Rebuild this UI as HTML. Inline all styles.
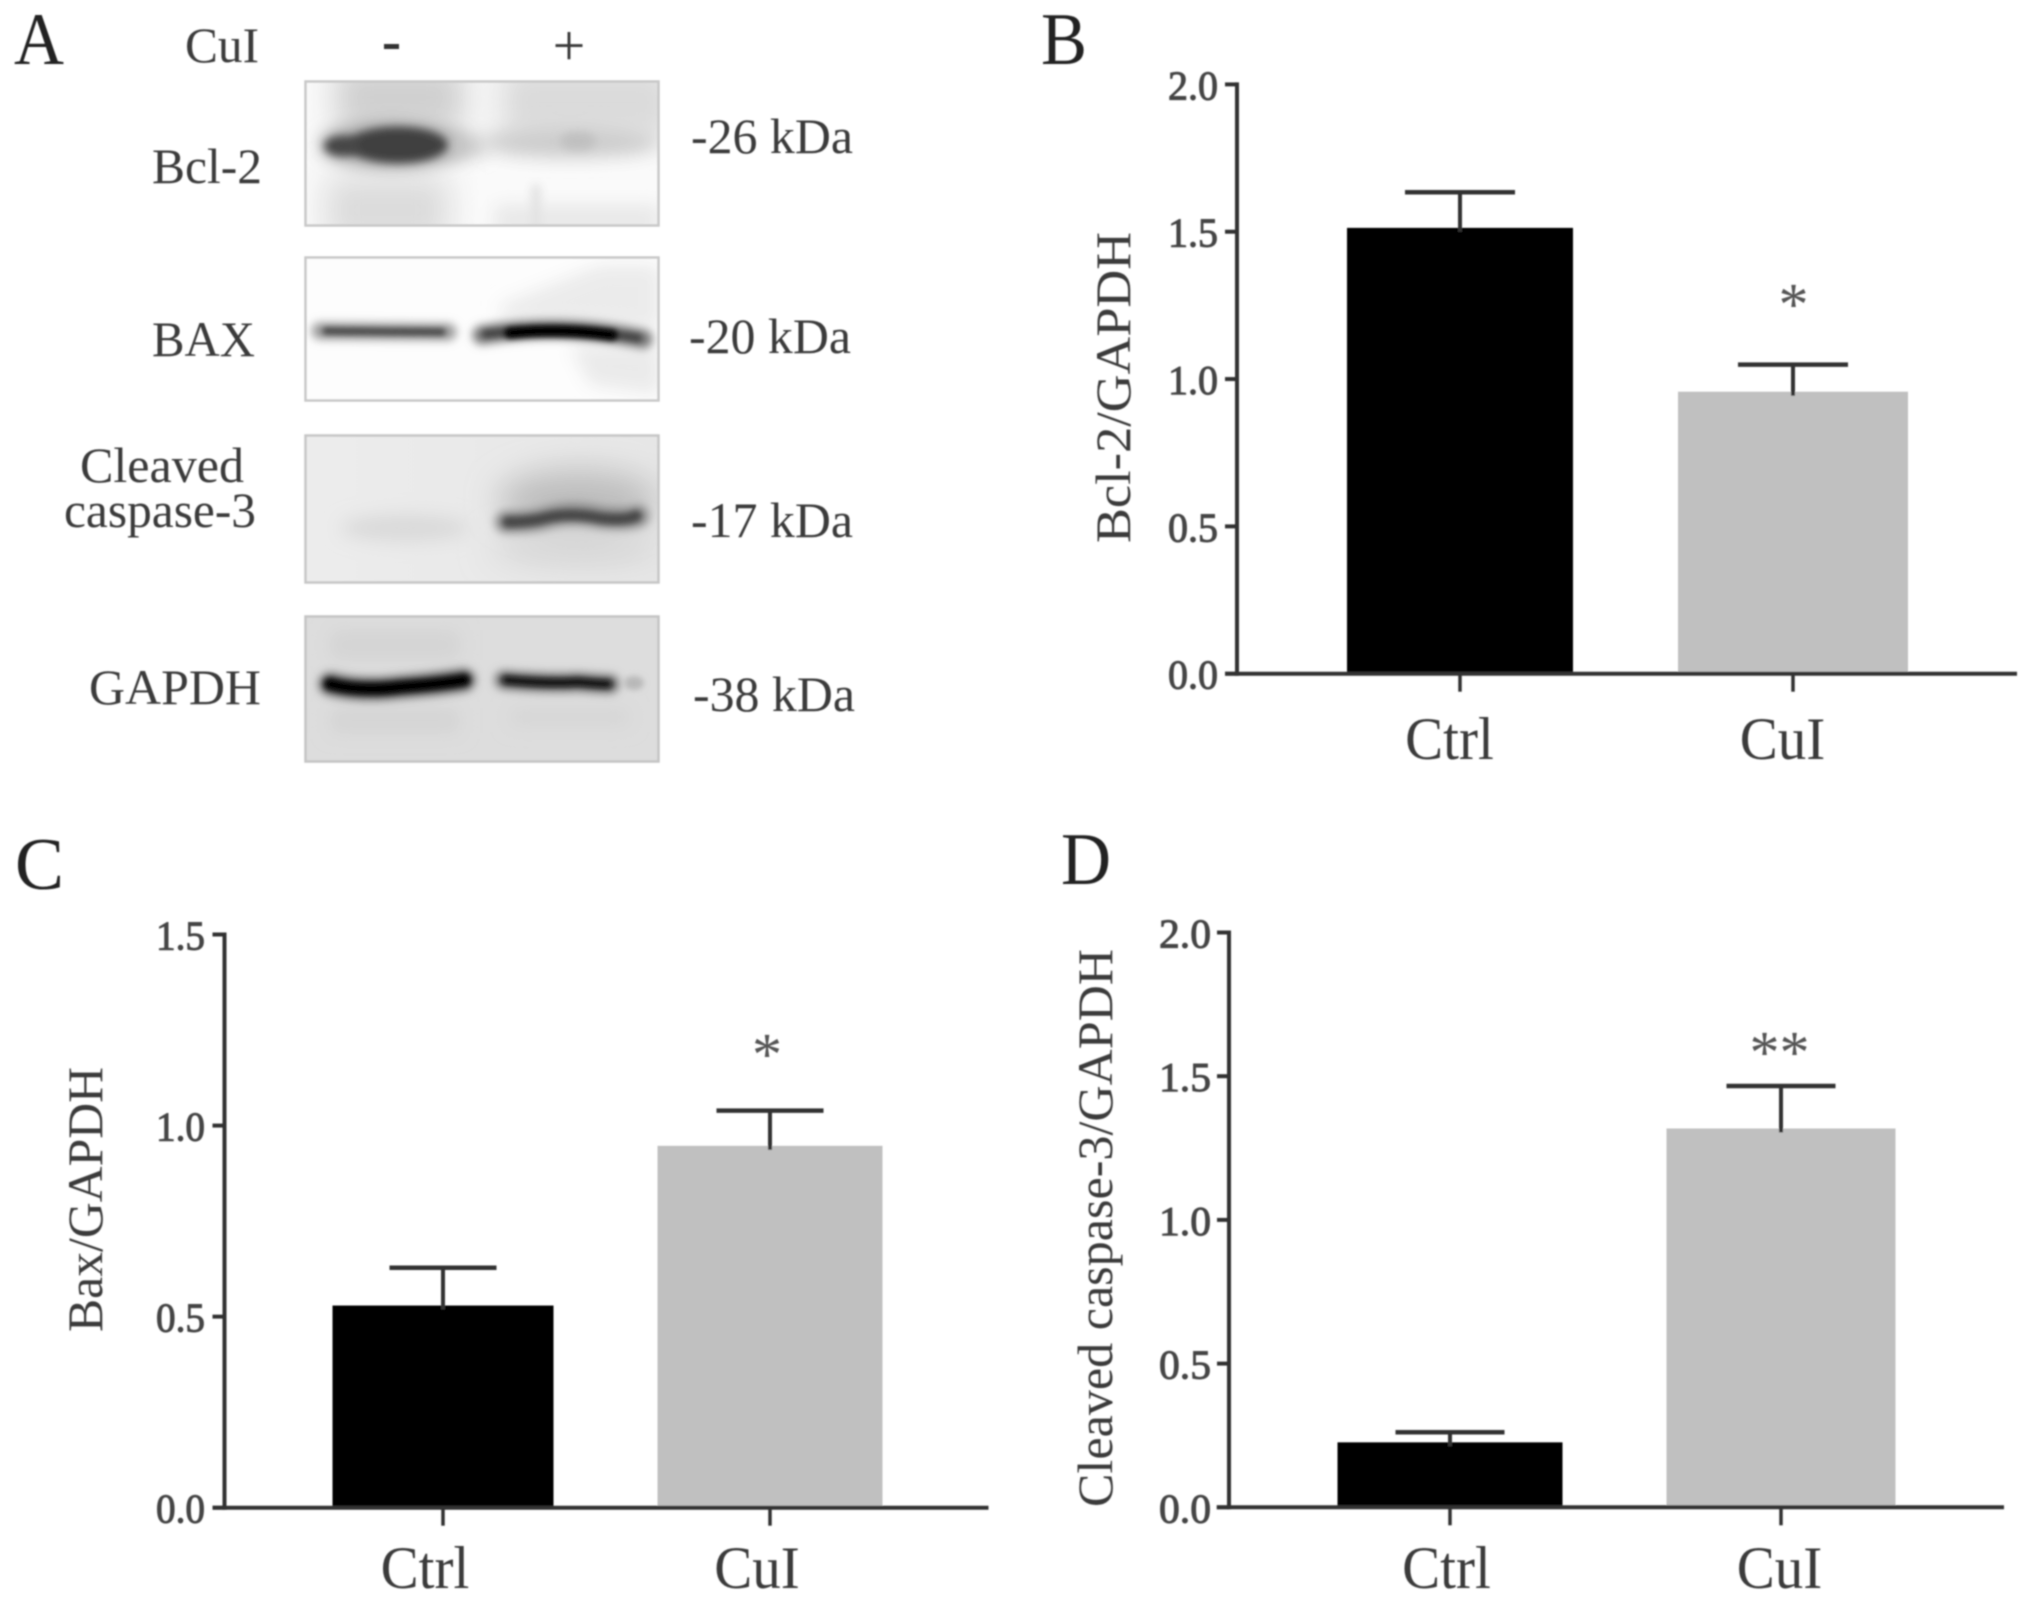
<!DOCTYPE html>
<html lang="en">
<head>
<meta charset="utf-8">
<title>Western blot and densitometry of Bcl-2, Bax and cleaved caspase-3</title>
<style>
html,body{margin:0;padding:0;background:#fff;width:2031px;height:1602px;overflow:hidden}
svg{display:block}
text{font-family:"Liberation Serif","Noto Serif CJK SC",serif;fill:#3a3a3a}
.lbl{font-size:50px}
.panel{font-size:74px;fill:#222}
.tick{font-size:41px;fill:#444;stroke:#444;stroke-width:1px}
.cat{font-size:60px}
.ytitle{font-size:50px}
.sig{font-size:60px;fill:#555}
</style>
</head>
<body>
<svg id="figure" xmlns="http://www.w3.org/2000/svg" width="2031" height="1602" viewBox="0 0 2031 1602">
<defs>
<filter id="b2" filterUnits="userSpaceOnUse" x="290" y="60" width="390" height="720"><feGaussianBlur stdDeviation="3"/></filter>
<filter id="b4" filterUnits="userSpaceOnUse" x="290" y="60" width="390" height="720"><feGaussianBlur stdDeviation="4.5"/></filter>
<filter id="b8" filterUnits="userSpaceOnUse" x="290" y="60" width="390" height="720"><feGaussianBlur stdDeviation="9"/></filter>
<filter id="b16" filterUnits="userSpaceOnUse" x="290" y="60" width="390" height="720"><feGaussianBlur stdDeviation="16"/></filter>
<filter id="soft" filterUnits="userSpaceOnUse" x="0" y="0" width="2031" height="1602"><feGaussianBlur stdDeviation="0.7"/></filter>
<clipPath id="c1"><rect x="305" y="81" width="354" height="144"/></clipPath>
<clipPath id="c2"><rect x="305" y="257" width="354" height="144"/></clipPath>
<clipPath id="c3"><rect x="305" y="435" width="354" height="148"/></clipPath>
<clipPath id="c4"><rect x="305" y="616" width="354" height="145"/></clipPath>
<linearGradient id="g3" x1="0" y1="0" x2="1" y2="0"><stop offset="0" stop-color="#ececec"/><stop offset="1" stop-color="#e6e6e6"/></linearGradient>
</defs>

<g id="soft-root" filter="url(#soft)">
<g id="panel-a">
  <text class="panel" x="14" y="64" textLength="50" lengthAdjust="spacingAndGlyphs">A</text>
  <text class="lbl" x="185" y="62" textLength="74" lengthAdjust="spacingAndGlyphs">CuI</text>
  <rect x="384" y="44" width="15" height="5" fill="#333"/>
  <text class="lbl" x="569" y="65" text-anchor="middle" style="font-size:58px">+</text>

  <g>
    <g clip-path="url(#c1)">
      <rect x="305" y="81" width="354" height="144" fill="#fafafa"/>
      <rect x="335" y="65" width="130" height="65" fill="#cfcfcf" filter="url(#b16)"/>
      <rect x="500" y="65" width="175" height="75" fill="#dadada" filter="url(#b16)"/>
      <rect x="325" y="175" width="125" height="70" fill="#dcdcdc" filter="url(#b16)"/>
      <rect x="495" y="205" width="165" height="30" fill="#e8e8e8" filter="url(#b8)"/>
      <rect x="531" y="185" width="10" height="50" fill="#e2e2e2" filter="url(#b4)"/>
      <ellipse cx="392" cy="145" rx="72" ry="22" fill="#9a9a9a" filter="url(#b8)"/>
      <ellipse cx="458" cy="146" rx="30" ry="12" fill="#c4c4c4" filter="url(#b8)"/>
      <ellipse cx="398" cy="145" rx="50" ry="18" fill="#3f3f3f" filter="url(#b4)"/>
      <ellipse cx="342" cy="146" rx="18" ry="10" fill="#444" filter="url(#b4)"/>
      <ellipse cx="570" cy="142" rx="88" ry="15" fill="#cccccc" filter="url(#b8)"/>
      <ellipse cx="578" cy="141" rx="18" ry="9" fill="#c0c0c0" filter="url(#b4)"/>
    </g>
    <rect x="305.5" y="81.5" width="353" height="144" fill="none" stroke="#c8c8c8" stroke-width="2.5"/>
  </g>

  <g>
    <g clip-path="url(#c2)">
      <rect x="305" y="257" width="354" height="144" fill="#fdfdfd"/>
      <polygon points="500,305 600,265 660,265 660,330 500,320" fill="#ebebeb" filter="url(#b8)"/>
      <polygon points="570,345 660,345 660,395 590,385" fill="#eaeaea" filter="url(#b8)"/>
      <path d="M320 331 L448 332" fill="none" stroke="#9a9a9a" stroke-width="17" stroke-linecap="round" filter="url(#b4)"/>
      <path d="M326 331 L442 332" fill="none" stroke="#444" stroke-width="7" stroke-linecap="round" filter="url(#b2)"/>
      <path d="M482 335 Q560 322 643 339" fill="none" stroke="#777" stroke-width="19" stroke-linecap="round" filter="url(#b4)"/>
      <path d="M486 334 Q560 326 638 338" fill="none" stroke="#444" stroke-width="8" stroke-linecap="round" filter="url(#b2)"/>
      <path d="M510 333 Q560 328 612 335" fill="none" stroke="#000" stroke-width="11" stroke-linecap="round" filter="url(#b2)"/>
    </g>
    <rect x="305.5" y="257.5" width="353" height="143" fill="none" stroke="#c8c8c8" stroke-width="2.5"/>
  </g>

  <g>
    <g clip-path="url(#c3)">
      <rect x="305" y="435" width="354" height="148" fill="url(#g3)"/>
      <ellipse cx="578" cy="500" rx="80" ry="30" fill="#bdbdbd" filter="url(#b16)"/>
      <ellipse cx="575" cy="548" rx="85" ry="16" fill="#d4d4d4" filter="url(#b16)"/>
      <ellipse cx="405" cy="528" rx="65" ry="13" fill="#d9d9d9" filter="url(#b8)"/>
      <path d="M506 522 Q530 522 545 518 Q570 510 600 517 Q625 520 638 516" fill="none" stroke="#8a8a8a" stroke-width="22" stroke-linecap="round" filter="url(#b4)"/>
      <path d="M508 522 Q530 522 545 518 Q570 512 600 518 Q625 521 636 516" fill="none" stroke="#4a4a4a" stroke-width="11" stroke-linecap="round" filter="url(#b2)"/>
    </g>
    <rect x="305.5" y="435.5" width="353" height="147" fill="none" stroke="#c6c6c6" stroke-width="2.5"/>
  </g>

  <g>
    <g clip-path="url(#c4)">
      <rect x="305" y="616" width="354" height="145" fill="#dddddd"/>
      <rect x="330" y="630" width="130" height="30" fill="#d4d4d4" filter="url(#b8)"/>
      <rect x="330" y="708" width="130" height="25" fill="#d4d4d4" filter="url(#b8)"/>
      <rect x="510" y="708" width="120" height="18" fill="#d6d6d6" filter="url(#b8)"/>
      <path d="M330 684 Q360 692 400 687 Q440 684 464 680" fill="none" stroke="#555" stroke-width="22" stroke-linecap="round" filter="url(#b4)"/>
      <path d="M330 684 Q360 692 400 687 Q440 684 464 680" fill="none" stroke="#000" stroke-width="12" stroke-linecap="round" filter="url(#b2)"/>
      <path d="M504 680 Q550 684 578 682 Q600 684 610 684" fill="none" stroke="#666" stroke-width="18" stroke-linecap="round" filter="url(#b4)"/>
      <path d="M506 680 Q550 684 578 682 Q600 684 608 684" fill="none" stroke="#0a0a0a" stroke-width="8" stroke-linecap="round" filter="url(#b2)"/>
      <ellipse cx="634" cy="683" rx="10" ry="7" fill="#b8b8b8" filter="url(#b2)"/>
    </g>
    <rect x="305.5" y="616.5" width="353" height="145" fill="none" stroke="#c4c4c4" stroke-width="2.5"/>
  </g>

  <text class="lbl" x="152" y="183" textLength="110" lengthAdjust="spacingAndGlyphs">Bcl-2</text>
  <text class="lbl" x="152" y="356" textLength="103" lengthAdjust="spacingAndGlyphs">BAX</text>
  <text class="lbl" x="80" y="482" textLength="164" lengthAdjust="spacingAndGlyphs">Cleaved</text>
  <text class="lbl" x="64" y="527" textLength="192" lengthAdjust="spacingAndGlyphs">caspase-3</text>
  <text class="lbl" x="89" y="704" textLength="172" lengthAdjust="spacingAndGlyphs">GAPDH</text>
  <text class="lbl" x="691" y="153" textLength="162" lengthAdjust="spacingAndGlyphs">-26 kDa</text>
  <text class="lbl" x="689" y="353" textLength="162" lengthAdjust="spacingAndGlyphs">-20 kDa</text>
  <text class="lbl" x="691" y="537" textLength="162" lengthAdjust="spacingAndGlyphs">-17 kDa</text>
  <text class="lbl" x="693" y="711" textLength="162" lengthAdjust="spacingAndGlyphs">-38 kDa</text>
</g>

<text class="panel" x="1041" y="64" textLength="46" lengthAdjust="spacingAndGlyphs">B</text>
<text class="panel" x="15" y="889" textLength="49" lengthAdjust="spacingAndGlyphs">C</text>
<text class="panel" x="1061" y="884" textLength="50" lengthAdjust="spacingAndGlyphs">D</text>

<text class="ytitle" transform="translate(1130,543) rotate(-90)" textLength="311" lengthAdjust="spacingAndGlyphs">Bcl-2/GAPDH</text>
<text class="ytitle" transform="translate(102,1332) rotate(-90)" textLength="265" lengthAdjust="spacingAndGlyphs">Bax/GAPDH</text>
<text class="ytitle" transform="translate(1112,1507) rotate(-90)" textLength="558" lengthAdjust="spacingAndGlyphs">Cleaved caspase-3/GAPDH</text>

<g id="charts"></g>
</g>
</svg>

<script>
var categories = ["Ctrl", "CuI"];

var ticksB = ["0.0", "0.5", "1.0", "1.5", "2.0"];
var meansB = [1.513, 0.957];
var errorsB = [0.121, 0.092];
var sigB = ["", "*"];

var ticksC = ["0.0", "0.5", "1.0", "1.5"];
var meansC = [0.529, 0.947];
var errorsC = [0.099, 0.092];
var sigC = ["", "*"];

var ticksD = ["0.0", "0.5", "1.0", "1.5", "2.0"];
var meansD = [0.226, 1.318];
var errorsD = [0.035, 0.148];
var sigD = ["", "**"];

var barColors = ["#000000", "#c0c0c0"];
var NS = "http://www.w3.org/2000/svg";
var root = document.getElementById("charts");

function node(parent, tag) {
  var el = document.createElementNS(NS, tag);
  parent.appendChild(el);
  return el;
}
function line(parent, x1, y1, x2, y2, w) {
  var el = node(parent, "line");
  el.setAttribute("x1", x1);
  el.setAttribute("y1", y1);
  el.setAttribute("x2", x2);
  el.setAttribute("y2", y2);
  el.setAttribute("stroke", "#333");
  el.setAttribute("stroke-width", w);
  return el;
}

function drawChart(id, categoriesList, ticks, means, errors, sig, g) {
  var group = node(root, "g");
  
  

  var yMax = parseFloat(ticks[ticks.length - 1]);
  function yScale(v) { return g.y0 - (v / yMax) * (g.y0 - g.yTop); }
  function xScale(i) { return g.x0 + i * g.step; }

  means.forEach(function (m, i) {
    var w = g.barW + i * g.barGrow;
    var bar = node(group, "rect");
    
    
    bar.setAttribute("x", xScale(i) - w / 2);
    bar.setAttribute("y", yScale(m));
    bar.setAttribute("width", w);
    bar.setAttribute("height", g.y0 - yScale(m));
    bar.setAttribute("fill", barColors[i]);

    var top = yScale(m + errors[i]);
    var stem = line(group, xScale(i), top, xScale(i), yScale(m) + 4, 4);
    
    
    var cap = line(group, xScale(i) - g.capW / 2, top, xScale(i) + g.capW / 2, top, 4.5);
    
    

    if (sig[i]) {
      var s = node(group, "text");
      
      
      s.setAttribute("class", "sig");
      s.setAttribute("text-anchor", "middle");
      s.setAttribute("x", xScale(i) + g.sigDx);
      s.setAttribute("y", top - g.sigGap);
      s.textContent = sig[i];
    }

    var tickX = line(group, xScale(i), g.y0, xScale(i), g.y0 + 18, 3.5);
    
    

    var lab = node(group, "text");
    
    
    lab.setAttribute("class", "cat");
    lab.setAttribute("text-anchor", "middle");
    lab.setAttribute("x", g.labelX0 + i * g.labelStep);
    lab.setAttribute("y", g.labelY);
    lab.textContent = categoriesList[i];
    lab.setAttribute("textLength", lab.getComputedTextLength() * 0.95);
    lab.setAttribute("lengthAdjust", "spacingAndGlyphs");
  });

  var yAxis = line(group, g.axisX, g.yTop - 2, g.axisX, g.y0 + 2, 4);
  
  
  var xAxis = line(group, g.xStart, g.y0, g.xEnd, g.y0, 4);
  
  

  ticks.forEach(function (t) {
    var v = parseFloat(t);
    var tk = line(group, g.axisX - 12, yScale(v), g.axisX, yScale(v), 4);
    
    
    var lb = node(group, "text");
    
    
    lb.setAttribute("class", "tick");
    lb.setAttribute("x", g.tickLabelX);
    lb.setAttribute("y", yScale(v) + 15);
    lb.setAttribute("textLength", g.tickLabelW);
    lb.setAttribute("lengthAdjust", "spacingAndGlyphs");
    lb.textContent = t;
  });
}

drawChart("b", categories, ticksB, meansB, errorsB, sigB, {
  axisX: 1237, y0: 673.7, yTop: 84.4, xStart: 1225, xEnd: 2017,
  x0: 1460, step: 333, barW: 226, barGrow: 4, capW: 110,
  tickLabelX: 1168, tickLabelW: 50, labelX0: 1449.5, labelStep: 333, labelY: 759,
  sigDx: 0.5, sigGap: 40
});
drawChart("c", categories, ticksC, meansC, errorsC, sigC, {
  axisX: 224.5, y0: 1507.7, yTop: 934.5, xStart: 212.7, xEnd: 988.5,
  x0: 443, step: 327, barW: 221, barGrow: 4, capW: 107,
  tickLabelX: 156, tickLabelW: 49, labelX0: 425, labelStep: 332, labelY: 1588,
  sigDx: -3, sigGap: 36
});
drawChart("d", categories, ticksD, meansD, errorsD, sigD, {
  axisX: 1229, y0: 1507.3, yTop: 932.5, xStart: 1216.7, xEnd: 2004,
  x0: 1450, step: 331, barW: 225, barGrow: 4, capW: 109,
  tickLabelX: 1159, tickLabelW: 52, labelX0: 1446.5, labelStep: 333, labelY: 1588,
  sigDx: -1.5, sigGap: 13.5
});
</script>
</body>
</html>
